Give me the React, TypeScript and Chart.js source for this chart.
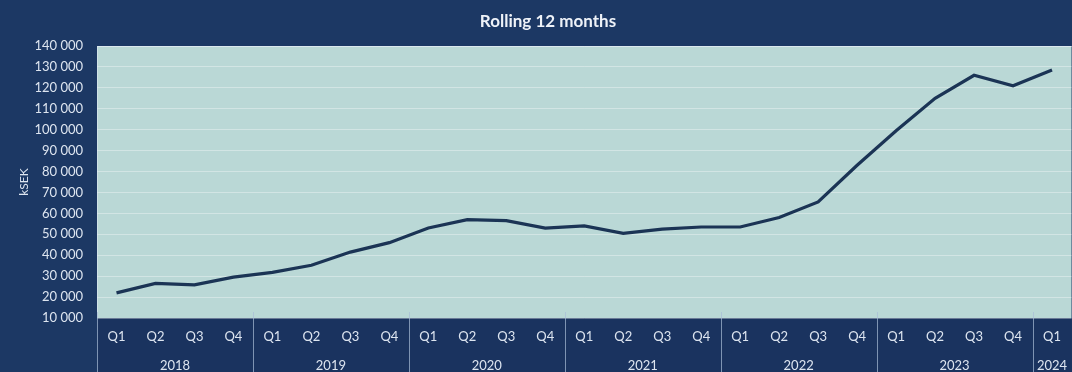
import React, { useEffect, useRef } from "react";
import { Chart, registerables } from "chart.js";

Chart.register(...registerables);

const chartTitle = "Rolling 12 months";
const yAxisTitle = "kSEK";
const years = ["2018", "2019", "2020", "2021", "2022", "2023", "2024"];
const quartersPerYear = [4, 4, 4, 4, 4, 4, 1];
const quarterNames = ["Q1", "Q2", "Q3", "Q4"];
const rolling12Values = [
  22000, 26500, 25800, 29500,
  31800, 35200, 41500, 46000,
  53000, 57000, 56500, 53000,
  54000, 50500, 52500, 53500,
  53500, 58000, 65500, 83000,
  99500, 115000, 126000, 121000,
  128500,
];
const yMin = 10000;
const yMax = 140000;
const yStep = 10000;

const quarterLabels: string[] = [];
quartersPerYear.forEach((n) => {
  for (let i = 0; i < n; i++) quarterLabels.push(quarterNames[i]);
});

const NAVY = "#1c3864";
const BAND = "#1a335f";
const PLOT = "#bad8d6";
const LINE = "#1b3455";
const TEXT = "#dde5f0";
const FONT = "Lato, 'Liberation Sans', sans-serif";

const fmt = (v: number) => String(v).replace(/\B(?=(\d{3})+(?!\d))/g, " ");

const framePlugin = {
  id: "frame",
  beforeDraw(chart: any) {
    const { ctx, chartArea: a, width, height } = chart;
    ctx.save();
    ctx.fillStyle = NAVY;
    ctx.fillRect(0, 0, width, height);
    ctx.fillStyle = BAND;
    ctx.fillRect(a.left, a.bottom, a.right - a.left, height - a.bottom);
    ctx.fillStyle = PLOT;
    ctx.fillRect(a.left, a.top, a.right - a.left, a.bottom - a.top);
    ctx.restore();
  },
  afterDraw(chart: any) {
    const { ctx, chartArea: a, height } = chart;
    const x = chart.scales.x;
    const half = (x.getPixelForValue(1) - x.getPixelForValue(0)) / 2;
    ctx.save();
    // plot border
    ctx.strokeStyle = "rgba(225,235,245,0.55)";
    ctx.lineWidth = 1;
    ctx.beginPath();
    ctx.moveTo(a.left + 0.5, a.bottom);
    ctx.lineTo(a.left + 0.5, a.top + 0.5);
    ctx.lineTo(a.right, a.top + 0.5);
    ctx.stroke();
    // year groups
    let idx = 0;
    ctx.font = `13px ${FONT}`;
    ctx.fillStyle = TEXT;
    ctx.textAlign = "center";
    ctx.textBaseline = "middle";
    ctx.strokeStyle = "rgba(170,190,215,0.7)";
    years.forEach((yr, k) => {
      const start = idx;
      const end = idx + quartersPerYear[k] - 1;
      const l = x.getPixelForValue(start) - half;
      const r = x.getPixelForValue(end) + half;
      const px = Math.round(l) + 0.5;
      ctx.beginPath();
      ctx.moveTo(px, a.bottom - 6);
      ctx.lineTo(px, height);
      ctx.stroke();
      ctx.fillText(yr, (l + r) / 2, 366);
      idx = end + 1;
    });
    // title
    ctx.font = `bold 17px ${FONT}`;
    ctx.fillStyle = "#eef2f8";
    ctx.fillText(chartTitle, 548, 22);
    ctx.restore();
  },
};

export default function App() {
  const ref = useRef<HTMLCanvasElement | null>(null);
  useEffect(() => {
    document.body.style.margin = "0";
    const canvas = ref.current;
    if (!canvas) return;
    const chart = new Chart(canvas, {
      type: "line",
      data: {
        labels: quarterLabels,
        datasets: [
          {
            label: chartTitle,
            data: rolling12Values,
            borderColor: LINE,
            borderWidth: 3.2,
            pointRadius: 0,
            tension: 0,
            fill: false,
          },
        ],
      },
      options: {
        animation: false,
        responsive: false,
        devicePixelRatio: 1,
        layout: { padding: { top: 46, left: 0, right: 0, bottom: 0 } },
        plugins: {
          legend: { display: false },
          title: { display: false },
          tooltip: { enabled: false },
        },
        scales: {
          x: {
            type: "category",
            offset: true,
            grid: { display: false, drawTicks: false },
            border: { display: false },
            ticks: {
              color: TEXT,
              font: { family: FONT, size: 13 },
              padding: 11,
              autoSkip: false,
              maxRotation: 0,
            },
            afterFit: (s: any) => {
              s.height = 54;
            },
          },
          y: {
            min: yMin,
            max: yMax,
            grid: { color: "rgba(255,255,255,0.35)", lineWidth: 1, drawTicks: false },
            border: { display: false },
            ticks: {
              stepSize: yStep,
              color: TEXT,
              font: { family: FONT, size: 13 },
              padding: 14,
              callback: (v: any) => fmt(Number(v)),
            },
            title: {
              display: true,
              text: yAxisTitle,
              color: TEXT,
              font: { family: FONT, size: 12 },
              padding: { top: 17, bottom: 0 },
            },
            afterFit: (s: any) => {
              s.width = 97;
            },
          },
        },
      },
      plugins: [framePlugin],
    });
    return () => chart.destroy();
  }, []);
  return (
    <div style={{ position: "fixed", left: 0, top: 0, width: 1072, height: 372 }}>
      <canvas ref={ref} width={1072} height={372} />
    </div>
  );
}
